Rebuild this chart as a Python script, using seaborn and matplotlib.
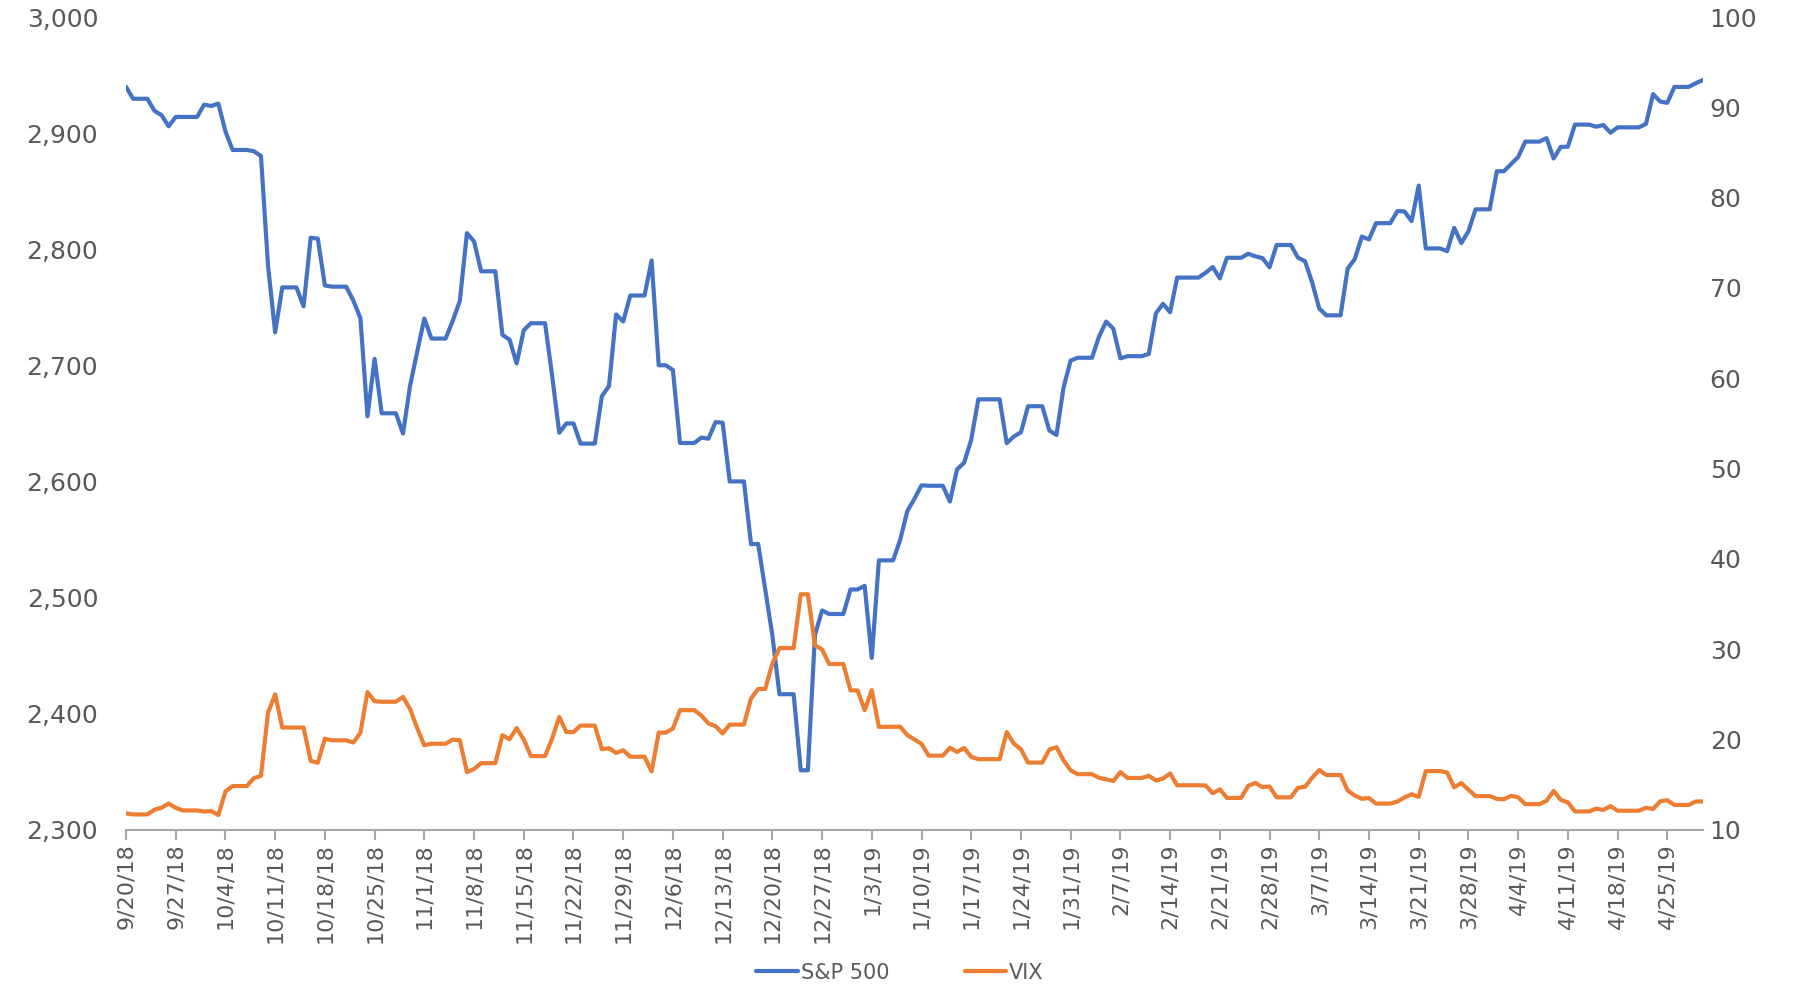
import matplotlib
matplotlib.use("Agg")
import matplotlib.pyplot as plt
import seaborn as sns
import pandas as pd
import numpy as np

# Calendar days 9/20/18 .. 4/30/19 (weekends/holidays hold the previous close, as drawn)
start_date = "2018-09-20"
end_date = "2019-04-30"

sp500 = [
    2940.00, 2929.67, 2929.67, 2929.67, 2919.37, 2915.56, 2905.97,
    2914.00, 2913.98, 2913.98, 2913.98, 2924.59, 2923.43, 2925.51,
    2901.61, 2885.57, 2885.57, 2885.57, 2884.43, 2880.34, 2785.68,
    2728.37, 2767.13, 2767.13, 2767.13, 2750.79, 2809.92, 2809.21,
    2768.78, 2767.78, 2767.78, 2767.78, 2755.88, 2740.69, 2656.10,
    2705.57, 2658.69, 2658.69, 2658.69, 2641.25, 2682.63, 2711.74,
    2740.37, 2723.06, 2723.06, 2723.06, 2738.31, 2755.45, 2813.89,
    2806.83, 2781.01, 2781.01, 2781.01, 2726.22, 2722.18, 2701.58,
    2730.20, 2736.27, 2736.27, 2736.27, 2690.73, 2641.89, 2649.93,
    2649.93, 2632.56, 2632.56, 2632.56, 2673.45, 2682.17, 2743.79,
    2737.80, 2760.17, 2760.17, 2760.17, 2790.37, 2700.06, 2700.06,
    2695.95, 2633.08, 2633.08, 2633.08, 2637.72, 2636.78, 2651.07,
    2650.54, 2599.95, 2599.95, 2599.95, 2545.94, 2546.16, 2506.96,
    2467.42, 2416.62, 2416.62, 2416.62, 2351.10, 2351.10, 2467.70,
    2488.83, 2485.74, 2485.74, 2485.74, 2506.85, 2506.85, 2510.03,
    2447.89, 2531.94, 2531.94, 2531.94, 2549.69, 2574.41, 2584.96,
    2596.64, 2596.26, 2596.26, 2596.26, 2582.61, 2610.30, 2616.10,
    2635.96, 2670.71, 2670.71, 2670.71, 2670.71, 2632.90, 2638.70,
    2642.33, 2664.76, 2664.76, 2664.76, 2643.85, 2640.00, 2681.05,
    2704.10, 2706.53, 2706.53, 2706.53, 2724.87, 2737.70, 2731.61,
    2706.05, 2707.88, 2707.88, 2707.88, 2709.80, 2744.73, 2753.03,
    2745.73, 2775.60, 2775.60, 2775.60, 2775.60, 2779.76, 2784.70,
    2774.88, 2792.67, 2792.67, 2792.67, 2796.11, 2793.90, 2792.38,
    2784.49, 2803.69, 2803.69, 2803.69, 2792.81, 2789.65, 2771.45,
    2748.93, 2743.07, 2743.07, 2743.07, 2783.30, 2791.52, 2810.92,
    2808.48, 2822.48, 2822.48, 2822.48, 2832.94, 2832.57, 2824.23,
    2854.88, 2800.71, 2800.71, 2800.71, 2798.36, 2818.46, 2805.37,
    2815.44, 2834.40, 2834.40, 2834.40, 2867.19, 2867.24, 2873.40,
    2879.39, 2892.74, 2892.74, 2892.74, 2895.77, 2878.20, 2888.21,
    2888.32, 2907.41, 2907.41, 2907.41, 2905.58, 2907.06, 2900.45,
    2905.03, 2905.03, 2905.03, 2905.03, 2907.97, 2933.68, 2927.25,
    2926.17, 2939.88, 2939.88, 2939.88, 2943.03, 2945.83,
]

vix = [
    11.80, 11.68, 11.68, 11.68, 12.20, 12.42, 12.89,
    12.41, 12.12, 12.12, 12.12, 12.00, 12.05, 11.61,
    14.22, 14.82, 14.82, 14.82, 15.69, 15.95, 22.96,
    24.98, 21.31, 21.31, 21.31, 21.30, 17.62, 17.40,
    20.06, 19.89, 19.89, 19.89, 19.64, 20.71, 25.23,
    24.22, 24.16, 24.16, 24.16, 24.70, 23.35, 21.23,
    19.34, 19.51, 19.51, 19.51, 19.96, 19.91, 16.36,
    16.72, 17.36, 17.36, 17.36, 20.45, 20.02, 21.25,
    19.98, 18.14, 18.14, 18.14, 20.10, 22.48, 20.80,
    20.80, 21.52, 21.52, 21.52, 18.90, 19.02, 18.49,
    18.79, 18.07, 18.07, 18.07, 16.44, 20.74, 20.74,
    21.19, 23.23, 23.23, 23.23, 22.64, 21.76, 21.46,
    20.65, 21.63, 21.63, 21.63, 24.52, 25.58, 25.58,
    28.38, 30.11, 30.11, 30.11, 36.07, 36.07, 30.41,
    29.96, 28.34, 28.34, 28.34, 25.42, 25.42, 23.22,
    25.45, 21.38, 21.38, 21.38, 21.40, 20.47, 19.98,
    19.50, 18.19, 18.19, 18.19, 19.07, 18.60, 19.04,
    18.06, 17.80, 17.80, 17.80, 17.80, 20.80, 19.52,
    18.89, 17.42, 17.42, 17.42, 18.87, 19.13, 17.66,
    16.57, 16.14, 16.14, 16.14, 15.73, 15.57, 15.38,
    16.37, 15.72, 15.72, 15.72, 15.97, 15.43, 15.65,
    16.22, 14.91, 14.91, 14.91, 14.91, 14.88, 14.02,
    14.46, 13.51, 13.51, 13.51, 14.85, 15.17, 14.70,
    14.78, 13.57, 13.57, 13.57, 14.63, 14.74, 15.74,
    16.59, 16.05, 16.05, 16.05, 14.33, 13.77, 13.41,
    13.50, 12.88, 12.88, 12.88, 13.10, 13.56, 13.91,
    13.63, 16.48, 16.48, 16.48, 16.33, 14.68, 15.15,
    14.43, 13.71, 13.71, 13.71, 13.40, 13.36, 13.74,
    13.58, 12.82, 12.82, 12.82, 13.18, 14.28, 13.30,
    13.02, 12.01, 12.01, 12.01, 12.32, 12.18, 12.60,
    12.09, 12.09, 12.09, 12.09, 12.42, 12.28, 13.14,
    13.25, 12.73, 12.73, 12.73, 13.11, 13.12,
]

series_names = ["S&P 500", "VIX"]
left_ticks = [2300, 2400, 2500, 2600, 2700, 2800, 2900, 3000]
right_ticks = [10, 20, 30, 40, 50, 60, 70, 80, 90, 100]

dates = pd.date_range(start_date, end_date, freq="D")
df = pd.DataFrame({"date": dates, "sp": sp500, "vix": vix})

sns.set_style("white")
plt.rcParams["font.family"] = ["DejaVu Sans"]
TXT = "#595959"
BLUE = "#4472C4"
ORANGE = "#ED7D31"

fig = plt.figure(figsize=(18, 10.08), dpi=100)
ax = fig.add_axes([0.07, 0.177, 0.876, 0.806])
ax2 = ax.twinx()

sns.lineplot(data=df, x="date", y="sp", ax=ax, color=BLUE, linewidth=3.0,
             label=series_names[0], legend=False)
sns.lineplot(data=df, x="date", y="vix", ax=ax2, color=ORANGE, linewidth=3.0,
             label=series_names[1], legend=False)

ax.set_ylim(2300, 3000)
ax2.set_ylim(10, 100)
ax.set_yticks(left_ticks)
ax.set_yticklabels([f"{v:,}" for v in left_ticks])
ax2.set_yticks(right_ticks)
ax2.set_yticklabels([str(v) for v in right_ticks])
ax.set_xlim(dates[0], dates[-1])

xt = pd.date_range("2018-09-20", "2019-04-25", freq="7D")
ax.set_xticks(xt)
ax.set_xticklabels([f"{d.month}/{d.day}/{d.strftime('%y')}" for d in xt],
                   rotation=90, fontsize=16, color=TXT)

for a in (ax, ax2):
    a.set_xlabel("")
    a.set_ylabel("")
    for s in ("left", "right", "top", "bottom"):
        a.spines[s].set_visible(False)
    a.grid(False)

ax.spines["bottom"].set_visible(True)
ax.spines["bottom"].set_color("#A6A6A6")
ax.spines["bottom"].set_linewidth(1.5)
ax.tick_params(axis="x", length=7, width=1.5, color="#A6A6A6", pad=3, bottom=True)
ax.tick_params(axis="y", length=0, pad=20, labelsize=18, labelcolor=TXT)
ax2.tick_params(axis="y", length=0, pad=5, labelsize=18, labelcolor=TXT)

h1, l1 = ax.get_legend_handles_labels()
h2, l2 = ax2.get_legend_handles_labels()
fig.legend(h1 + h2, l1 + l2, loc="center", bbox_to_anchor=(0.5, 0.035),
           ncol=2, frameon=False, fontsize=15, handlelength=2.0,
           handletextpad=0.15, columnspacing=3.6, labelcolor=TXT)

fig.savefig("out.png", dpi=100)
